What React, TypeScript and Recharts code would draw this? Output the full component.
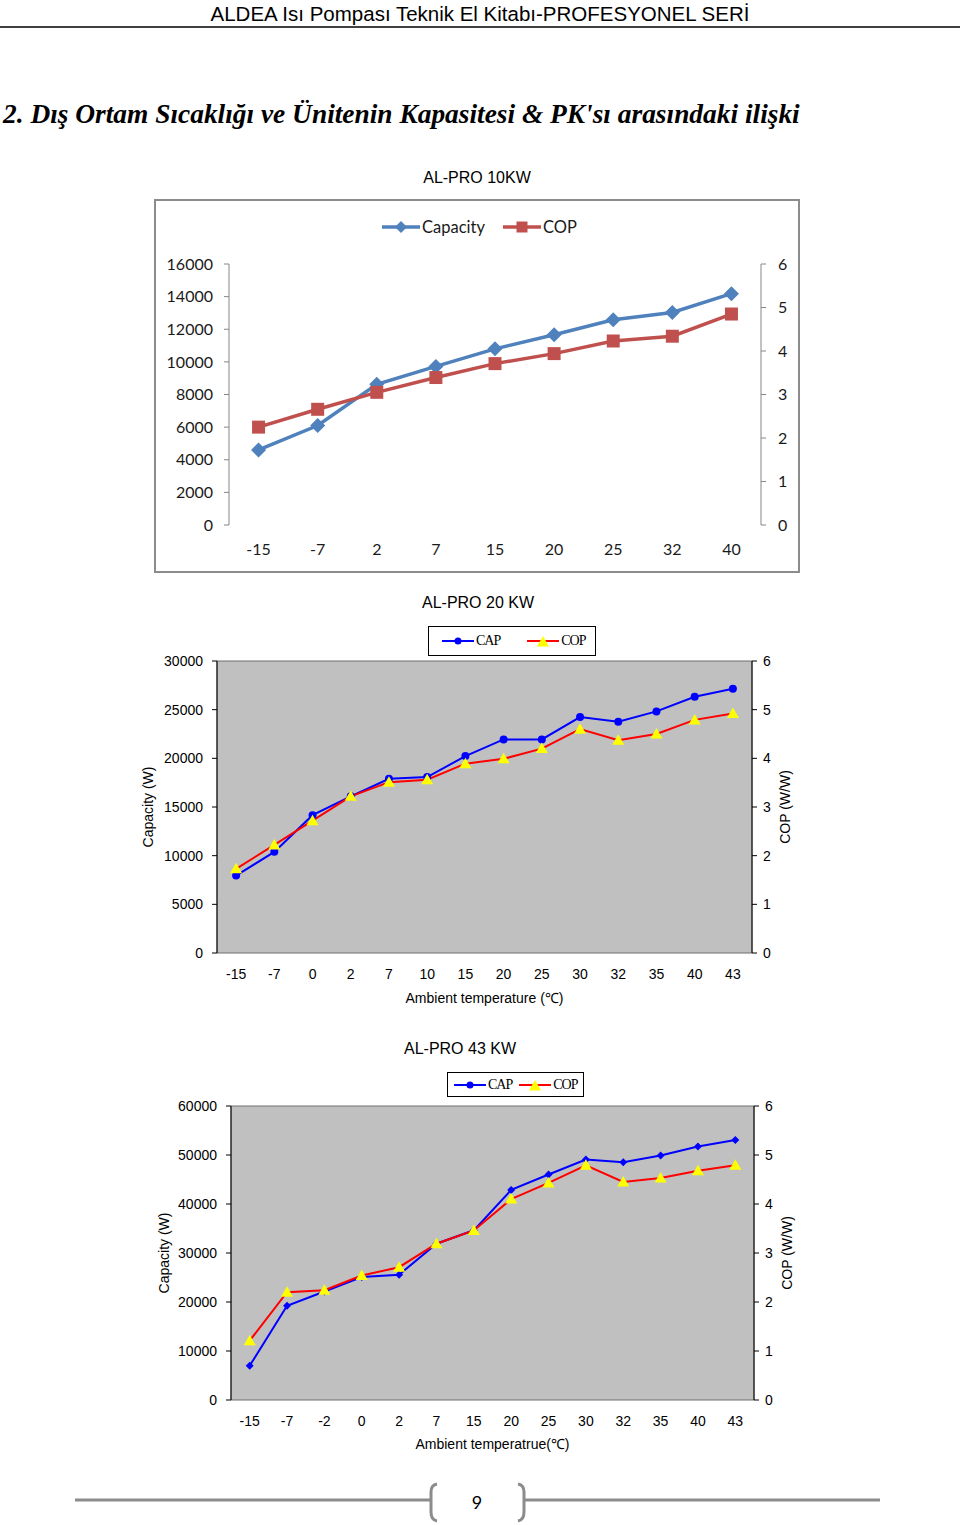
import React from 'react';
import { LineChart, Line, XAxis, YAxis, Legend, ReferenceArea } from 'recharts';

// AL-PRO 10KW
const temps10 = ['-15', '-7', '2', '7', '15', '20', '25', '32', '40'];
const capacity10 = [4600, 6100, 8630, 9720, 10800, 11660, 12580, 13030, 14180];
const cop10 = [2.25, 2.66, 3.05, 3.39, 3.71, 3.94, 4.23, 4.34, 4.85];

// AL-PRO 20 KW
const temps20 = ['-15', '-7', '0', '2', '7', '10', '15', '20', '25', '30', '32', '35', '40', '43'];
const capacity20 = [7950, 10390, 14160, 16100, 17900, 18070, 20230, 21940, 21940, 24240, 23760, 24820, 26330, 27150];
const cop20 = [1.73, 2.22, 2.72, 3.22, 3.51, 3.56, 3.89, 3.99, 4.2, 4.6, 4.37, 4.5, 4.79, 4.92];

// AL-PRO 43 KW
const temps43 = ['-15', '-7', '-2', '0', '2', '7', '15', '20', '25', '30', '32', '35', '40', '43'];
const capacity43 = [7000, 19220, 22150, 25090, 25570, 31900, 34630, 42880, 46020, 49090, 48540, 49900, 51740, 53040];
const cop43 = [1.21, 2.2, 2.24, 2.54, 2.71, 3.19, 3.46, 4.1, 4.43, 4.79, 4.45, 4.53, 4.68, 4.79];

const capTicks10 = [0, 2000, 4000, 6000, 8000, 10000, 12000, 14000, 16000];
const capTicks20 = [0, 5000, 10000, 15000, 20000, 25000, 30000];
const capTicks43 = [0, 10000, 20000, 30000, 40000, 50000, 60000];
const copTicks = [0, 1, 2, 3, 4, 5, 6];

const toRows = (temps: string[], cap: number[], cop: number[]) =>
  temps.map((t, i) => ({ i, t, cap: cap[i], cop: cop[i] }));

const rows10 = toRows(temps10, capacity10, cop10);
const rows20 = toRows(temps20, capacity20, cop20);
const rows43 = toRows(temps43, capacity43, cop43);

// category boundaries, where the excel-style tick marks sit
const boundaries = (n: number) => Array.from({ length: n + 1 }, (_, k) => k - 0.5);
const centers = (n: number) => Array.from({ length: n }, (_, k) => k);

const diamond = (cx: number, cy: number, r: number) =>
  `M${cx},${cy - r}L${cx + r},${cy}L${cx},${cy + r}L${cx - r},${cy}Z`;
const square = (cx: number, cy: number, r: number) =>
  `M${cx - r},${cy - r}H${cx + r}V${cy + r}H${cx - r}Z`;
const triangle = (cx: number, cy: number, r: number) =>
  `M${cx},${cy - r}L${cx + r},${cy + r * 0.75}L${cx - r},${cy + r * 0.75}Z`;

const SANS = '"Liberation Sans", Arial, sans-serif';

const BoxLegend = ({ payload, width, height, pad, gap, marker }: any) => (
  <div
    style={{
      width,
      height,
      border: '1px solid #000',
      background: '#fff',
      boxSizing: 'border-box',
      display: 'flex',
      alignItems: 'center',
      paddingLeft: pad,
      fontFamily: '"Liberation Serif", serif',
      fontSize: 14,
      letterSpacing: -1,
      color: '#000',
    }}
  >
    {(payload || []).map((entry: any, k: number) => (
      <div key={entry.value} style={{ display: 'flex', alignItems: 'center', marginLeft: k ? gap : 0 }}>
        <svg width={32} height={14}>
          <line x1={0} y1={7} x2={32} y2={7} stroke={entry.color} strokeWidth={2} />
          {marker(entry.dataKey, 16, 7)}
        </svg>
        <span style={{ marginLeft: 2 }}>{entry.value}</span>
      </div>
    ))}
  </div>
);

const smallMarker = (key: string, cx: number, cy: number) =>
  key === 'cap' ? <circle cx={cx} cy={cy} r={3.5} fill="#0000FF" /> : <path d={triangle(cx, cy + 1, 6)} fill="#FFFF00" />;

interface GrayChartProps {
  rows: any[];
  temps: string[];
  capTicks: number[];
  left: number;
  top: number;
  width: number;
  leftAxis: number;
  rightAxis: number;
  axisHeight: number;
  xTitle: string;
  xTitleOffset: number;
  leftTitleX: number;
  rightTitleOffset: number;
  legend: { left: number; top: number; width: number; height: number; pad: number; gap: number };
  capDot: (cx: number, cy: number) => React.ReactNode;
}

const GrayChart = (p: GrayChartProps) => {
  const n = p.temps.length;
  const capMax = p.capTicks[p.capTicks.length - 1];
  const tickFont = { fill: '#000', fontSize: 14, fontFamily: SANS };
  return (
    <div style={{ position: 'absolute', left: p.left, top: p.top }}>
      <LineChart width={p.width} height={400} data={p.rows} margin={{ top: 41, right: 0, bottom: 0, left: 0 }}>
        <XAxis
          xAxisId="marks"
          dataKey="i"
          type="number"
          domain={[-0.5, n - 0.5]}
          allowDataOverflow
          ticks={boundaries(n)}
          interval={0}
          tickFormatter={() => ''}
          height={0}
          mirror
          tickSize={5}
          stroke="#000"
        />
        <XAxis
          dataKey="i"
          type="number"
          domain={[-0.5, n - 0.5]}
          ticks={centers(n)}
          interval={0}
          tickFormatter={(v: number) => p.temps[v]}
          height={p.axisHeight}
          axisLine={false}
          tickLine={false}
          tickSize={0}
          tickMargin={16}
          tick={tickFont}
          label={{ value: p.xTitle, position: 'insideBottom', offset: p.xTitleOffset, fill: '#000', fontSize: 14, fontFamily: SANS }}
        />
        <YAxis
          yAxisId="cap"
          domain={[0, capMax]}
          ticks={p.capTicks}
          interval={0}
          width={p.leftAxis}
          stroke="#000"
          tickSize={5}
          tickMargin={9}
          tick={tickFont}
          label={{
            value: 'Capacity (W)',
            angle: -90,
            position: 'insideLeft',
            offset: p.leftTitleX,
            fill: '#000',
            fontSize: 14,
            fontFamily: SANS,
            style: { textAnchor: 'middle' },
          }}
        />
        <YAxis
          yAxisId="cop"
          orientation="right"
          domain={[0, 6]}
          ticks={copTicks}
          interval={0}
          width={p.rightAxis}
          stroke="#000"
          tickSize={5}
          tickMargin={6}
          tick={tickFont}
          label={{
            value: 'COP (W/W)',
            angle: -90,
            position: 'insideRight',
            offset: p.rightTitleOffset,
            fill: '#000',
            fontSize: 14,
            fontFamily: SANS,
            style: { textAnchor: 'middle' },
          }}
        />
        <ReferenceArea
          yAxisId="cap"
          x1={-0.5}
          x2={n - 0.5}
          y1={0}
          y2={capMax}
          fill="#C0C0C0"
          fillOpacity={1}
          stroke="#6e6e6e"
          strokeWidth={1}
        />
        <Legend
          layout="vertical"
          align="center"
          verticalAlign="middle"
          itemSorter="dataKey"
          wrapperStyle={{ left: p.legend.left, top: p.legend.top, width: p.legend.width, height: p.legend.height }}
          content={(lp: any) => (
            <BoxLegend
              payload={lp.payload}
              width={p.legend.width}
              height={p.legend.height}
              pad={p.legend.pad}
              gap={p.legend.gap}
              marker={smallMarker}
            />
          )}
        />
        <Line
          yAxisId="cap"
          dataKey="cap"
          name="CAP"
          stroke="#0000FF"
          strokeWidth={2}
          isAnimationActive={false}
          dot={(d: any) => <g key={`c${d.index}`}>{p.capDot(d.cx, d.cy)}</g>}
        />
        <Line
          yAxisId="cop"
          dataKey="cop"
          name="COP"
          stroke="#FF0000"
          strokeWidth={2}
          isAnimationActive={false}
          dot={(d: any) => <path key={`t${d.index}`} d={triangle(d.cx, d.cy, 6)} fill="#FFFF00" />}
        />
      </LineChart>
    </div>
  );
};

const Chart10 = () => {
  const n = temps10.length;
  const tickFont = { fill: '#1a1a1a', fontSize: 16, fontFamily: 'Lato, sans-serif' };
  return (
    <div
      style={{
        position: 'absolute',
        left: 154,
        top: 199,
        width: 646,
        height: 374,
        border: '2px solid #8c8c8c',
        boxSizing: 'border-box',
        background: '#fff',
      }}
    >
      <LineChart width={642} height={370} data={rows10} margin={{ top: 63, right: 0, bottom: 0, left: 0 }}>
        <XAxis
          xAxisId="marks"
          dataKey="i"
          type="number"
          domain={[-0.5, n - 0.5]}
          allowDataOverflow
          ticks={boundaries(n)}
          interval={0}
          tickFormatter={() => ''}
          height={0}
          tickSize={6}
          stroke="#868686"
        />
        <XAxis
          dataKey="i"
          type="number"
          domain={[-0.5, n - 0.5]}
          ticks={centers(n)}
          interval={0}
          tickFormatter={(v: number) => temps10[v]}
          height={46}
          axisLine={false}
          tickLine={false}
          tickSize={0}
          tickMargin={19}
          tick={tickFont}
        />
        <YAxis
          yAxisId="cap"
          domain={[0, 16000]}
          ticks={capTicks10}
          interval={0}
          width={73}
          stroke="#868686"
          tickSize={5}
          tickMargin={11}
          tick={tickFont}
        />
        <YAxis
          yAxisId="cop"
          orientation="right"
          domain={[0, 6]}
          ticks={copTicks}
          interval={0}
          width={37}
          stroke="#868686"
          tickSize={5}
          tickMargin={12}
          tick={tickFont}
        />
        <Legend
          layout="vertical"
          align="center"
          verticalAlign="middle"
          itemSorter="dataKey"
          wrapperStyle={{ left: 226, top: 16, width: 230, height: 22 }}
          content={(lp: any) => (
            <div style={{ display: 'flex', alignItems: 'center', fontFamily: 'Lato, sans-serif', fontSize: 16.5, color: '#1a1a1a' }}>
              {(lp.payload || []).map((entry: any, k: number) => (
                <div key={entry.value} style={{ display: 'flex', alignItems: 'center', marginLeft: k ? 18 : 0 }}>
                  <svg width={38} height={16}>
                    <line x1={0} y1={8} x2={38} y2={8} stroke={entry.color} strokeWidth={3.5} />
                    <path d={entry.dataKey === 'cap' ? diamond(19, 8, 6) : square(19, 8, 5.5)} fill={entry.color} />
                  </svg>
                  <span style={{ marginLeft: 2 }}>{entry.value}</span>
                </div>
              ))}
            </div>
          )}
        />
        <Line
          yAxisId="cap"
          dataKey="cap"
          name="Capacity"
          stroke="#4F81BD"
          strokeWidth={3.5}
          isAnimationActive={false}
          dot={(d: any) => <path key={`d${d.index}`} d={diamond(d.cx, d.cy, 7.5)} fill="#4F81BD" />}
        />
        <Line
          yAxisId="cop"
          dataKey="cop"
          name="COP"
          stroke="#C0504D"
          strokeWidth={3.5}
          isAnimationActive={false}
          dot={(d: any) => <path key={`s${d.index}`} d={square(d.cx, d.cy, 6.5)} fill="#C0504D" />}
        />
      </LineChart>
    </div>
  );
};

const ChartTitle = ({ text, cx, cy }: { text: string; cx: number; cy: number }) => (
  <div
    style={{
      position: 'absolute',
      left: cx - 150,
      top: cy - 11,
      width: 300,
      textAlign: 'center',
      fontFamily: SANS,
      fontSize: 16,
      lineHeight: '22px',
      color: '#000',
    }}
  >
    {text}
  </div>
);

export default function App() {
  return (
    <div style={{ position: 'relative', width: 960, height: 1525, background: '#fff', overflow: 'hidden', fontFamily: SANS }}>
      <style>{'body{margin:0}'}</style>
      <div
        style={{
          position: 'absolute',
          left: 0,
          top: 2,
          width: 960,
          textAlign: 'center',
          fontFamily: SANS,
          fontSize: 20.5,
          lineHeight: '24px',
          color: '#000',
        }}
      >
        ALDEA Isı Pompası Teknik El Kitabı-PROFESYONEL SERİ
      </div>
      <div style={{ position: 'absolute', left: 0, top: 26, width: 960, height: 2, background: '#404040' }} />
      <div
        style={{
          position: 'absolute',
          left: 3,
          top: 96,
          whiteSpace: 'nowrap',
          fontFamily: '"Liberation Serif", serif',
          fontWeight: 'bold',
          fontStyle: 'italic',
          fontSize: 27.4,
          lineHeight: '36px',
          color: '#000',
        }}
      >
        2. Dış Ortam Sıcaklığı ve Ünitenin Kapasitesi &amp; PK'sı arasındaki ilişki
      </div>

      <ChartTitle text="AL-PRO 10KW" cx={477} cy={178} />
      <Chart10 />

      <ChartTitle text="AL-PRO 20 KW" cx={478} cy={603} />
      <GrayChart
        rows={rows20}
        temps={temps20}
        capTicks={capTicks20}
        left={130}
        top={620}
        width={680}
        leftAxis={87}
        rightAxis={58}
        axisHeight={67}
        xTitle="Ambient temperature (℃)"
        xTitleOffset={17}
        leftTitleX={18}
        rightTitleOffset={25}
        legend={{ left: 298, top: 6, width: 168, height: 30, pad: 13, gap: 27 }}
        capDot={(cx, cy) => <circle cx={cx} cy={cy} r={4} fill="#0000FF" />}
      />

      <ChartTitle text="AL-PRO 43 KW" cx={460} cy={1049} />
      <GrayChart
        rows={rows43}
        temps={temps43}
        capTicks={capTicks43}
        left={150}
        top={1065}
        width={660}
        leftAxis={81}
        rightAxis={56}
        axisHeight={65}
        xTitle="Ambient temperatrue(℃)"
        xTitleOffset={16}
        leftTitleX={14}
        rightTitleOffset={23}
        legend={{ left: 297, top: 7, width: 137, height: 25, pad: 6, gap: 7 }}
        capDot={(cx, cy) => <path d={diamond(cx, cy, 4)} fill="#0000FF" />}
      />

      <svg style={{ position: 'absolute', left: 0, top: 1480 }} width={960} height={45}>
        <line x1={75} y1={20} x2={430} y2={20} stroke="#8c8c8c" strokeWidth={3} />
        <path d="M437,4 Q431,5 431,12 L431,32 Q431,40 437,41" fill="none" stroke="#8c8c8c" strokeWidth={3} />
        <path d="M518,4 Q524,5 524,12 L524,32 Q524,40 518,41" fill="none" stroke="#8c8c8c" strokeWidth={3} />
        <line x1={524} y1={20} x2={880} y2={20} stroke="#8c8c8c" strokeWidth={3} />
        <text x={477} y={29} textAnchor="middle" fontFamily="Lato, sans-serif" fontSize={18} fill="#000">
          9
        </text>
      </svg>
    </div>
  );
}
